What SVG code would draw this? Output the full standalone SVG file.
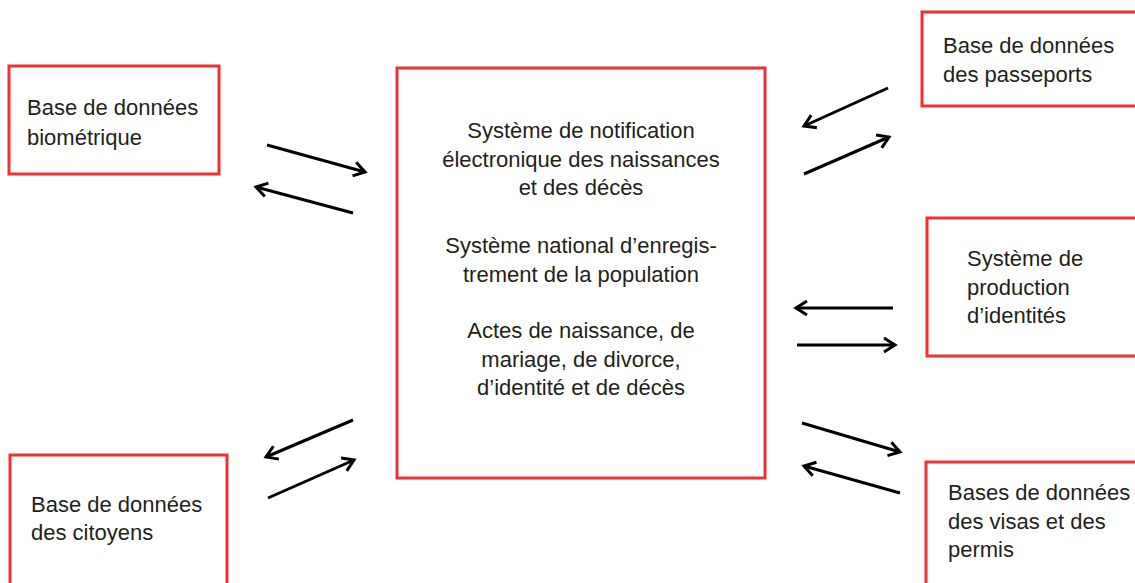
<svg xmlns="http://www.w3.org/2000/svg" width="1135" height="583" viewBox="0 0 1135 583">
<style>
.box{fill:#fff;stroke:#ec3237;stroke-width:3}
.t{font-family:"Liberation Sans",Arial,sans-serif;font-size:22px;fill:#231f20}
.c{text-anchor:middle}
.ar{stroke:#000;stroke-width:3;fill:none;marker-end:url(#ah)}
</style>
<defs>
<marker id="ah" markerUnits="userSpaceOnUse" markerWidth="20" markerHeight="20" viewBox="-12 -10 14 20" refX="0" refY="0" orient="auto">
<path d="M-11,-7 L0,0 L-11,7" fill="none" stroke="#000" stroke-width="3"/>
</marker>
</defs>
<rect width="1135" height="583" fill="#fff"/>
<g id="center">
<rect class="box" x="397" y="68" width="368" height="410"/>
<text class="t c" x="581"><tspan x="581" y="138">Système de notification</tspan><tspan x="581" y="167">électronique des naissances</tspan><tspan x="581" y="195">et des décès</tspan><tspan x="581" y="253">Système national d’enregis-</tspan><tspan x="581" y="282">trement de la population</tspan><tspan x="581" y="338">Actes de naissance, de</tspan><tspan x="581" y="367">mariage, de divorce,</tspan><tspan x="581" y="395">d’identité et de décès</tspan></text>
</g>
<g id="biometrique">
<rect class="box" x="9" y="66" width="210" height="108"/>
<text class="t"><tspan x="27" y="115">Base de données</tspan><tspan x="27" y="145">biométrique</tspan></text>
</g>
<g id="citoyens">
<rect class="box" x="10" y="455" width="217" height="140"/>
<text class="t"><tspan x="31" y="512">Base de données</tspan><tspan x="31" y="540">des citoyens</tspan></text>
</g>
<g id="passeports">
<rect class="box" x="922" y="12" width="230" height="94"/>
<text class="t"><tspan x="943" y="53">Base de données</tspan><tspan x="943" y="82">des passeports</tspan></text>
</g>
<g id="identites">
<rect class="box" x="927" y="218" width="230" height="138"/>
<text class="t"><tspan x="967" y="266">Système de</tspan><tspan x="967" y="295">production</tspan><tspan x="967" y="323">d’identités</tspan></text>
</g>
<g id="visas">
<rect class="box" x="926" y="462" width="230" height="140"/>
<text class="t"><tspan x="948" y="500">Bases de données</tspan><tspan x="948" y="529">des visas et des</tspan><tspan x="948" y="557">permis</tspan></text>
</g>
<g id="connectors">
<line class="ar" x1="267" y1="145" x2="365" y2="172"/>
<line class="ar" x1="353" y1="213" x2="256" y2="187"/>
<line class="ar" x1="353" y1="420" x2="266" y2="457"/>
<line class="ar" x1="268" y1="498" x2="354" y2="460"/>
<line class="ar" x1="888" y1="88" x2="804" y2="126"/>
<line class="ar" x1="804" y1="174" x2="889" y2="137"/>
<line class="ar" x1="893" y1="308" x2="796" y2="308"/>
<line class="ar" x1="797" y1="345" x2="895" y2="345"/>
<line class="ar" x1="802" y1="423" x2="900" y2="452"/>
<line class="ar" x1="900" y1="493" x2="804" y2="466"/>
</g>
</svg>
